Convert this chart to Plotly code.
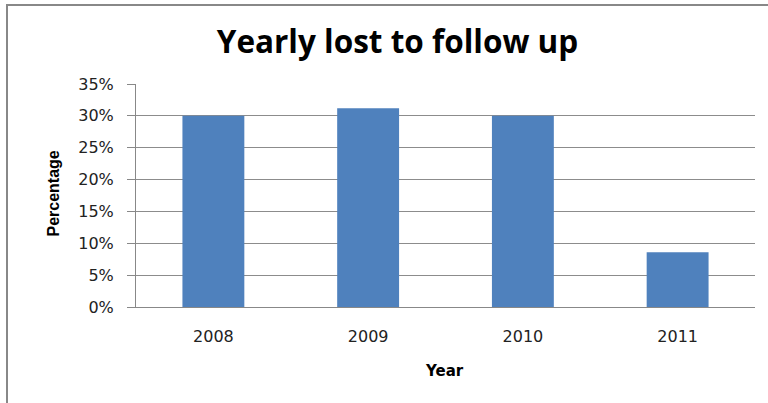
import plotly.graph_objects as go

years = ["2008", "2009", "2010", "2011"]
values = [30.0, 31.2, 30.0, 8.6]
y_ticks = [0, 5, 10, 15, 20, 25, 30, 35]
y_tick_labels = ["0%", "5%", "10%", "15%", "20%", "25%", "30%", "35%"]

L, R, T, B = 136, 13, 84, 96
W, H = 768, 403
pw, ph = W - L - R, H - T - B

fig = go.Figure(go.Bar(x=years, y=values, marker=dict(color="#4F81BD", line=dict(width=0))))

def px_x(x):
    return (x - L) / pw

def px_y(y):
    return (H - B - y) / ph

fig.update_layout(
    width=W, height=H,
    margin=dict(l=L, r=R, t=T, b=B),
    paper_bgcolor="white", plot_bgcolor="white",
    bargap=0.6,
    showlegend=False,
    title=dict(text="<b>Yearly lost to follow up</b>", x=397.5 / W, xanchor="center",
               y=1 - 42 / H, yanchor="middle",
               font=dict(family="Open Sans", size=31.5, color="black")),
    font=dict(family="DejaVu Sans", size=16, color="#222222"),
)
fig.update_xaxes(showline=True, linecolor="#888888", linewidth=1, ticks="",
                 ticklabelstandoff=15, tickfont=dict(size=16))
fig.update_yaxes(range=[0, 35], tickvals=y_ticks, ticktext=y_tick_labels,
                 showgrid=True, gridcolor="#8c8c8c", gridwidth=1,
                 showline=True, linecolor="#888888", linewidth=1,
                 ticks="outside", ticklen=8, tickcolor="#888888",
                 ticklabelstandoff=10, zeroline=False, tickfont=dict(size=16))

fig.add_annotation(text="<b>Percentage</b>", textangle=-90, xref="paper", yref="paper",
                   x=px_x(53), y=px_y(193.5), xanchor="center", yanchor="middle",
                   showarrow=False,
                   font=dict(family="Liberation Sans", size=16, color="black"))
fig.add_annotation(text="<b>Year</b>", xref="paper", yref="paper",
                   x=px_x(444), y=px_y(371), xanchor="center", yanchor="middle",
                   showarrow=False,
                   font=dict(family="DejaVu Sans", size=15, color="black"))

fig.add_shape(type="rect", xref="paper", yref="paper",
              x0=px_x(7), x1=px_x(780), y0=px_y(420), y1=px_y(5),
              line=dict(color="#888888", width=2), fillcolor="rgba(0,0,0,0)", layer="below")

fig.write_html("out.html")
